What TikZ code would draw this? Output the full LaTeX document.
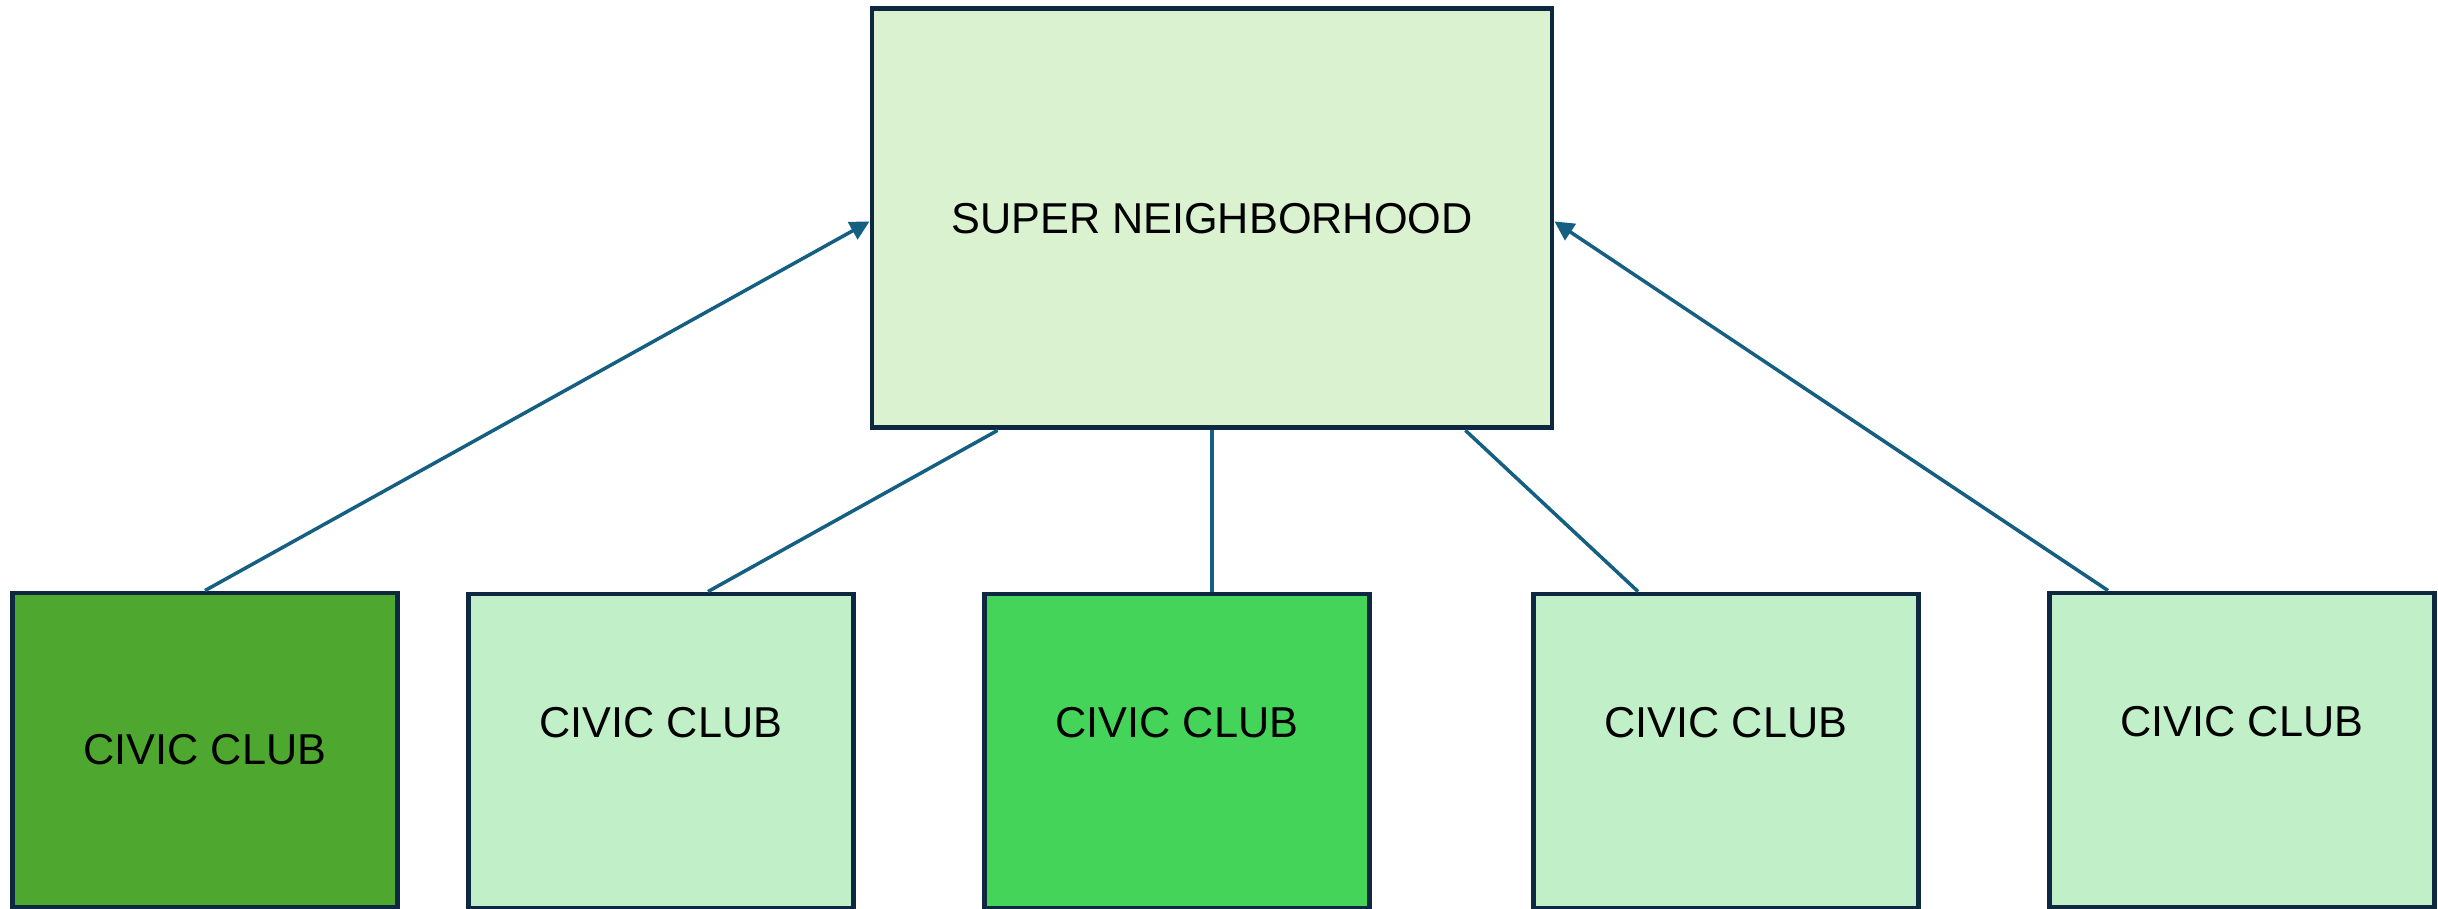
\documentclass[tikz,border=0pt]{standalone}
\usepackage{fontspec}
\setmainfont{Liberation Sans}
\usetikzlibrary{arrows.meta, calc}
\definecolor{edgeblue}{HTML}{0E2841}
\definecolor{linkblue}{HTML}{156082}
\definecolor{hoodgreen}{HTML}{DAF2D0}
\definecolor{palegreen}{HTML}{C1F0C8}
\definecolor{darkgreen}{HTML}{4EA72E}
\definecolor{midgreen}{HTML}{45D45A}
\tikzset{
    box/.style = {draw=edgeblue, line width=1.4pt, inner sep=0pt,
        font=\fontsize{12.3}{14}\selectfont},
    hood/.style = {box, fill=hoodgreen, minimum width=6.80cm, minimum height=4.19cm},
    club/.style = {box, fill=palegreen, minimum width=3.85cm, minimum height=3.14cm},
    clubup/.style = {club, text depth=5.8mm},
    link/.style = {draw=linkblue, line width=1pt},
}

\begin{document}
\begin{tikzpicture}[>={Triangle[length=5.5pt,width=5.5pt]}]
\useasboundingbox (0,0) rectangle (24.38,-9.08);

\node[hood] (super) at (12.12,-2.184) {SUPER NEIGHBORHOOD};

\node[club, fill=darkgreen] (club1) at (2.05,-7.50) {CIVIC CLUB};
\node[clubup] (club2) at (6.61,-7.51) {CIVIC CLUB};
\node[clubup, fill=midgreen] (club3) at (11.77,-7.51) {CIVIC CLUB};
\node[clubup] (club4) at (17.26,-7.51) {CIVIC CLUB};
\node[clubup] (club5) at (22.42,-7.50) {CIVIC CLUB};

% arrows into the sides
\draw[link,->] (club1.north) -- ($(super.west)+(0,-0.03)$);
\draw[link,->] ($(club5.north west)+(0.61,0)$) -- ($(super.east)+(0,-0.03)$);

% plain lines from the bottom
\draw[link] ($(club2.north)+(0.47,0)$) -- ($(super.south west)!0.187!(super.south east)$);
\draw[link] (super.south) -- (super.south |- club3.north);
\draw[link] ($(super.south west)!0.87!(super.south east)$) -- ($(club4.north west)+(1.07,0)$);
\end{tikzpicture}
\end{document}
